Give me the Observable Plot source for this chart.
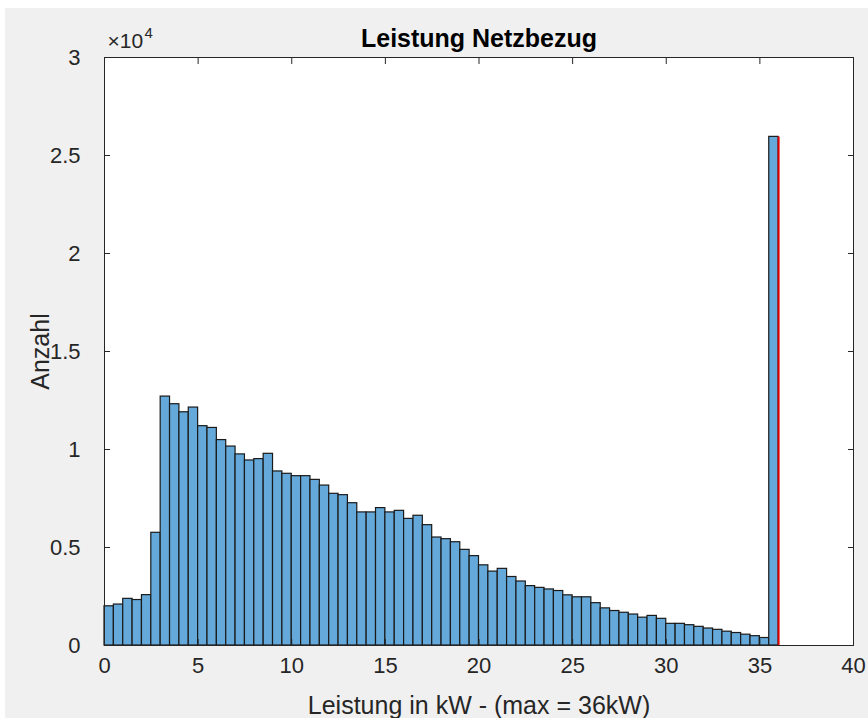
<!DOCTYPE html>
<html>
<head>
<meta charset="utf-8">
<script src="https://cdn.jsdelivr.net/npm/d3@7"></script>
<script src="https://cdn.jsdelivr.net/npm/@observablehq/plot@0.6"></script>
<style>
  html, body { margin: 0; padding: 0; background: #ffffff; }
  #fig {
    position: absolute; left: 5px; top: 8px;
    width: 863px; height: 710px;
    background: #f0f0f0; overflow: hidden;
  }
  #fig svg { display: block; background: transparent; }
</style>
</head>
<body>
<div id="fig"></div>
<script>
// Histogram of grid import power, bins of 0.5 kW from 0 to 36 kW
const binWidth = 0.5;
const counts = [
  2000, 2090, 2380, 2320, 2570, 5750, 12700, 12310, 11900, 12140,
  11190, 11100, 10480, 10150, 9750, 9440, 9510, 9780, 8880, 8760,
  8640, 8640, 8450, 8160, 7740, 7670, 7260, 6790, 6790, 7010,
  6790, 6870, 6460, 6620, 6140, 5510, 5425, 5270, 4880, 4560,
  4090, 3770, 3910, 3495, 3265, 3030, 2940, 2860, 2780, 2560,
  2460, 2460, 2160, 1895, 1760, 1670, 1580, 1420, 1510, 1360,
  1105, 1105, 1037, 952, 867, 799, 705, 637, 552, 476,
  382, 25950
];
const maxPower = 36;               // kW, marked with a red line
const xTicks = [0, 5, 10, 15, 20, 25, 30, 35, 40];
const yTicks = [0, 5000, 10000, 15000, 20000, 25000, 30000];
const yTickLabels = ["0", "0.5", "1", "1.5", "2", "2.5", "3"];
const titleText = "Leistung Netzbezug";
const xLabel = "Leistung in kW - (max = 36kW)";
const yLabel = "Anzahl";

const bins = counts.map((c, i) => ({x1: i * binWidth, x2: (i + 1) * binWidth, count: c}));

const axisColor = "#262626";
const font = "'Liberation Sans', Arial, Helvetica, sans-serif";

const chart = Plot.plot({
  width: 863,
  height: 710,
  marginLeft: 99,
  marginRight: 15,
  marginTop: 49,
  marginBottom: 73,
  style: {fontFamily: font, background: "transparent", color: axisColor},
  x: {domain: [0, 40]},
  y: {domain: [0, 30000]},
  marks: [
    Plot.frame({fill: "white", stroke: "none"}),
    Plot.rectY(bins, {
      x1: "x1", x2: "x2", y: "count",
      fill: "#64a9d9", stroke: "#1a1a1a", strokeWidth: 1.2
    }),
    Plot.ruleX([maxPower], {x: d => d, y1: 0, y2: counts[counts.length - 1], stroke: "#e00000", strokeWidth: 2}),
    Plot.frame({stroke: axisColor, strokeWidth: 1}),
    // bottom and left axes with inward ticks
    Plot.axisX(xTicks, {anchor: "bottom", tickSize: -6, tickPadding: 18, fontSize: 22, stroke: axisColor, fill: axisColor, label: null}),
    Plot.axisY(yTicks, {anchor: "left", tickSize: -6, tickPadding: 30, fontSize: 22, stroke: axisColor, fill: axisColor, label: null,
      tickFormat: d => yTickLabels[yTicks.indexOf(d)]}),
    // top and right axes: tick marks only
    Plot.axisX(xTicks, {anchor: "top", tickSize: -6, tickFormat: () => "", stroke: axisColor, label: null}),
    Plot.axisY(yTicks, {anchor: "right", tickSize: -6, tickFormat: () => "", stroke: axisColor, label: null}),
    // titles and labels
    Plot.text([titleText], {frameAnchor: "top", dy: -19, lineAnchor: "middle", fontSize: 25, fontWeight: "bold", fill: "#000000"}),
    Plot.text([xLabel], {frameAnchor: "bottom", dy: 60, lineAnchor: "middle", fontSize: 25, fill: axisColor}),
    Plot.text([yLabel], {frameAnchor: "left", dx: -64, rotate: -90, textAnchor: "middle", lineAnchor: "middle", fontSize: 25, fill: axisColor}),
    // exponent of the y axis
    Plot.text(["×10"], {frameAnchor: "top-left", dx: 3, dy: -10, textAnchor: "start", lineAnchor: "bottom", fontSize: 21, fill: axisColor}),
    Plot.text(["4"], {frameAnchor: "top-left", dx: 40, dy: -20, textAnchor: "start", lineAnchor: "bottom", fontSize: 15, fill: axisColor})
  ]
});

document.getElementById("fig").appendChild(chart);
</script>
</body>
</html>
